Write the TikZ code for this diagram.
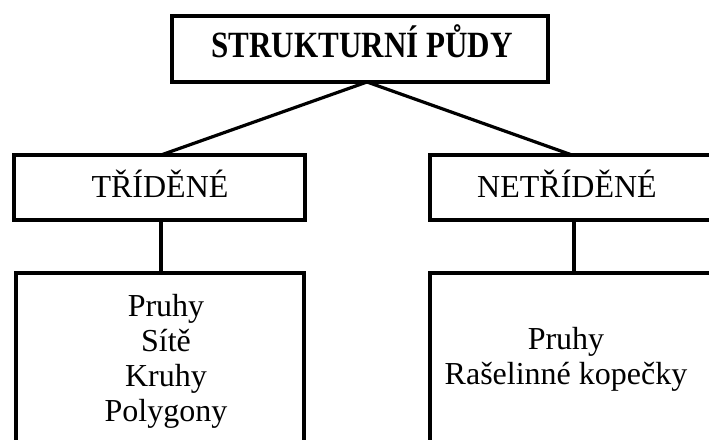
\documentclass[tikz,border=0pt]{standalone}
\usepackage{fontspec}
\setmainfont{Liberation Serif}
\newfontfamily\titlefont[FakeStretch=0.84]{Liberation Serif}
\begin{document}
\begin{tikzpicture}[x=1pt,y=-1pt,
  boxline/.style={draw=black,line width=3.6pt},
  conn/.style={draw=black,line width=3.2pt},
  midtext/.style={font=\fontsize{32}{36}\selectfont,anchor=base,inner sep=0pt},
  listtext/.style={font=\fontsize{32}{35}\selectfont,align=center,inner sep=0pt}]
\useasboundingbox (0,0) rectangle (709,439);
\clip (0,0) rectangle (709,439);
% boxes
\draw[boxline] (172,16) rectangle (548,82);
\draw[boxline] (14,155) rectangle (305,220);
\draw[boxline] (430,155) rectangle (730,220);
\draw[boxline] (16,273) rectangle (304,470);
\draw[boxline] (430,273) rectangle (730,470);
% anchor points
\coordinate (apex) at (367,82);
\coordinate (lt) at (161,155);
\coordinate (rt) at (572,155);
\coordinate (lb) at (161,220);
\coordinate (lbb) at (161,273);
\coordinate (rb) at (574,220);
\coordinate (rbb) at (574,273);
\draw[conn] (apex) -- (lt);
\draw[conn] (apex) -- (rt);
\draw[conn] (lb) -- (lbb);
\draw[conn] (rb) -- (rbb);
% texts
\node[anchor=base,inner sep=0pt,font=\titlefont\bfseries\fontsize{37}{40}\selectfont] (title) at (362,57) {STRUKTURNÍ PŮDY};
\node[midtext] (trid) at (160,197) {TŘÍDĚNÉ};
\node[midtext] (netrid) at (567,197) {NETŘÍDĚNÉ};
\node[listtext,anchor=base] (llist) at (166,421) {Pruhy\\Sítě\\Kruhy\\Polygony};
\node[listtext,anchor=base] (rlist) at (566,384) {Pruhy\\Rašelinné kopečky};
\end{tikzpicture}
\end{document}
